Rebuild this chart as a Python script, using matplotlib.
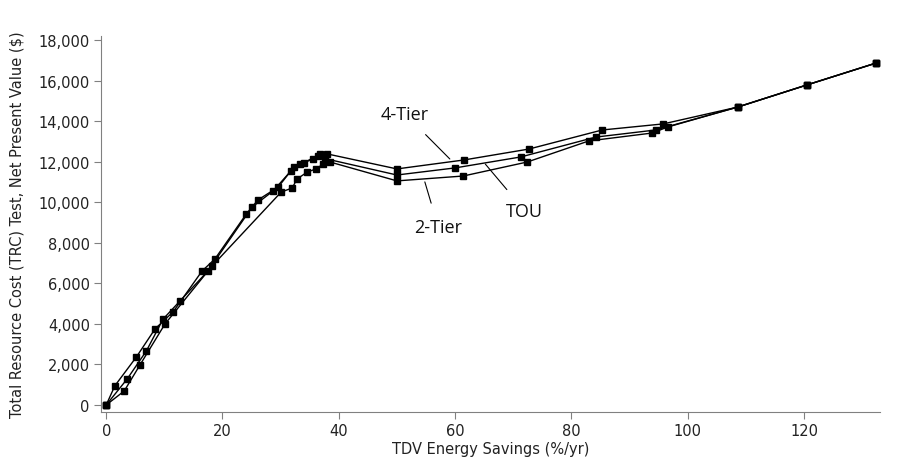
import matplotlib
matplotlib.use("Agg")
import matplotlib.pyplot as plt
from matplotlib.ticker import FuncFormatter, MultipleLocator

# Data: TDV energy savings (%/yr) vs TRC net present value ($)
tier4_x = [0, 1.5, 5.2, 8.4, 11.5, 16.5, 18.7, 24.1, 26.1, 29.6, 32.3, 33.4, 35.6, 36.8, 38.0,
           50.0, 61.5, 72.7, 85.3, 95.8, 108.6, 120.5, 132.4]
tier4_y = [0, 950, 2370, 3750, 4590, 6610, 7200, 9420, 10110, 10750, 11740, 11880, 12130, 12380, 12380,
           11640, 12080, 12620, 13560, 13860, 14690, 15780, 16860]

tou_x = [0, 3.6, 6.9, 9.8, 12.7, 17.5, 25.1, 28.7, 31.8, 34.0, 36.4, 37.6,
         50.0, 60.0, 71.3, 84.2, 94.5, 108.6, 120.5, 132.4]
tou_y = [0, 1280, 2660, 4240, 5130, 6610, 9760, 10550, 11550, 11950, 12300, 12150,
         11340, 11690, 12230, 13210, 13560, 14690, 15780, 16860]

tier2_x = [0, 3.1, 5.8, 10.1, 18.2, 30.1, 32.0, 32.8, 34.6, 36.1, 37.3, 38.5,
           50.0, 61.4, 72.4, 83.0, 93.9, 96.6, 108.6, 120.5, 132.4]
tier2_y = [0, 690, 1970, 3990, 6850, 10500, 10700, 11140, 11490, 11640, 11880, 11980,
           11050, 11290, 11980, 13020, 13410, 13710, 14690, 15780, 16860]

fig = plt.figure(figsize=(8.99, 4.60), dpi=100)
ax = fig.add_axes([0.1123, 0.1022, 0.979 - 0.1123, 0.9196 - 0.1022])

for xs, ys in [(tier2_x, tier2_y), (tou_x, tou_y), (tier4_x, tier4_y)]:
    ax.plot(xs, ys, color="black", lw=1.0, marker="s", ms=5, mfc="black", mec="black")

ax.set_xlim(-0.9, 133.1)
ax.set_ylim(-345, 18195)
ax.xaxis.set_major_locator(MultipleLocator(20))
ax.yaxis.set_major_locator(MultipleLocator(2000))
ax.yaxis.set_major_formatter(FuncFormatter(lambda v, p: f"{int(v):,}"))

for s in ["top", "right"]:
    ax.spines[s].set_visible(False)
for s in ["left", "bottom"]:
    ax.spines[s].set_color("#808080")
ax.tick_params(axis="both", colors="#808080", labelcolor="#222222", labelsize=10.5, length=5, pad=3)

ax.set_xlabel("TDV Energy Savings (%/yr)", fontsize=10.5, color="#222222", labelpad=2)
ax.set_ylabel("Total Resource Cost (TRC) Test, Net Present Value ($)", fontsize=10.5,
              color="#222222", labelpad=10)

# Annotations
ann_fs = 13
kw = dict(fontsize=ann_fs, family="Open Sans", ha="center", va="center", color="#111111")
ap = dict(arrowstyle="-", color="black", lw=0.8, shrinkA=9, shrinkB=0)
ax.annotate("4-Tier", xy=(59.1, 12130), xytext=(51.4, 14350), arrowprops=ap, **kw)
ax.annotate("TOU", xy=(65.2, 11880), xytext=(72.0, 9570), arrowprops=ap, **kw)
ax.annotate("2-Tier", xy=(54.8, 11000), xytext=(57.1, 8780), arrowprops=ap, **kw)

fig.savefig("out.png", dpi=100, facecolor="white")
